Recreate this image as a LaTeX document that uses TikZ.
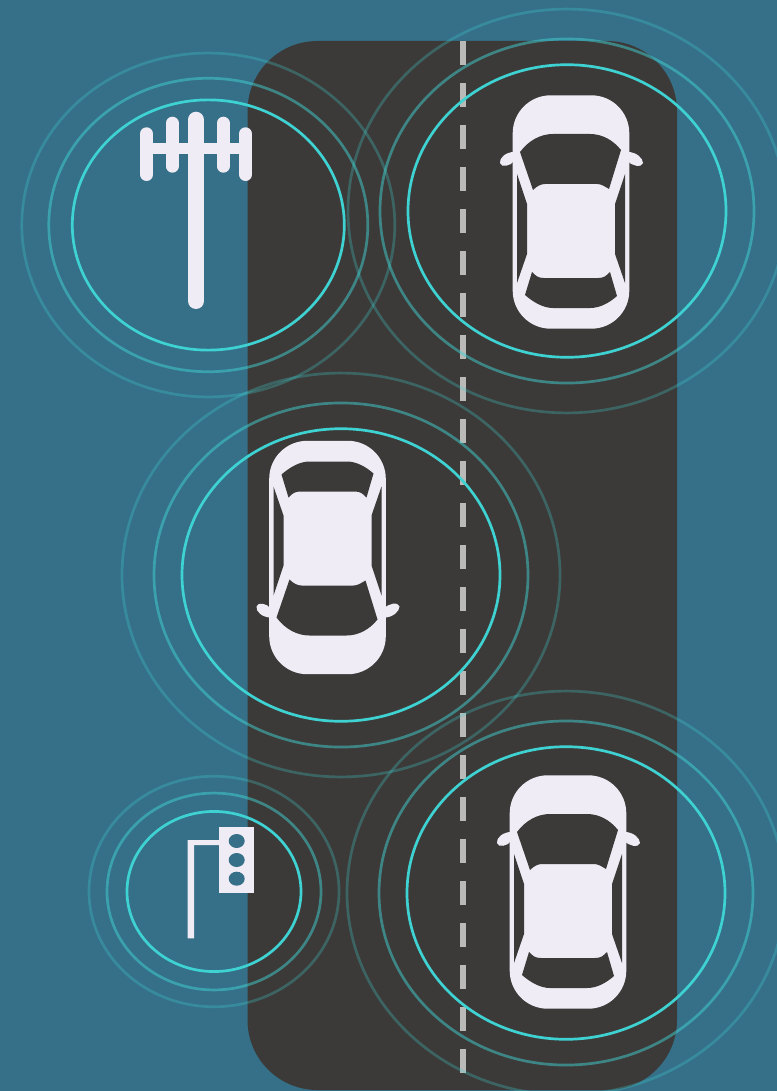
\documentclass[tikz,border=0pt]{standalone}
\usepackage{tikz}
\definecolor{bgblue}{HTML}{357088}
\definecolor{roadgray}{HTML}{3C3A38}
\definecolor{ringcyan}{HTML}{3FD2D2}
\definecolor{carwhite}{HTML}{F0ECF5}
\tikzset{
    ringa/.style={draw=ringcyan,line width=2.7pt},
    ringb/.style={draw=ringcyan,line width=2.7pt,opacity=0.5},
    ringc/.style={draw=ringcyan,line width=2.7pt,opacity=0.28},
    antenna/.style={draw=carwhite,line width=13pt,line cap=round},
    car/.pic={
        % carrozzeria
        \fill[carwhite,rounded corners=38pt] (-58.3,-116.7) rectangle (58.3,116.7);
        % specchietti
        \fill[carwhite] (-57,-60) .. controls (-65,-60) and (-72,-54) .. (-71,-49) .. controls (-70,-44) and (-60,-46) .. (-57,-51) -- cycle;
        \fill[carwhite] (57,-60) .. controls (65,-60) and (72,-54) .. (72,-49) .. controls (71,-44) and (60,-46) .. (57,-51) -- cycle;
        % parabrezza e lunotto
        \fill[roadgray] (-51,-60) .. controls (-42,-72) and (-30,-78) .. (-18,-78) -- (19,-78) .. controls (31,-78) and (42,-72) .. (50,-62) -- (38,-23) .. controls (33,-26) and (30,-28) .. (26,-28) -- (-26,-28) .. controls (-30,-28) and (-34,-26) .. (-38,-22) -- cycle;
        \fill[roadgray] (-46,83) .. controls (-38,90) and (-28,96) .. (-18,96) -- (19,96) .. controls (29,96) and (38,91) .. (46,84) -- (39,60) .. controls (35,64) and (33,66) .. (27,66) -- (-27,66) .. controls (-33,66) and (-35,64) .. (-39,60) -- cycle;
        % finestrini
        \fill[roadgray] (-54,-38) -- (-44,-8) -- (-44,42) -- (-54,71) -- cycle;
        \fill[roadgray] (54,-38) -- (44,-8) -- (44,42) -- (54,71) -- cycle;
    }
}
\newcommand{\ringset}[5]{%
    \draw[ringc] (#1,#2) ellipse[x radius=#5,y radius=#5*0.922];
    \draw[ringb] (#1,#2) ellipse[x radius=#4,y radius=#4*0.92];
    \draw[ringa] (#1,#2) ellipse[x radius=#3,y radius=#3*0.92];
}
\begin{document}
\begin{tikzpicture}[x=1pt,y=-1pt]
    \useasboundingbox (0,0) rectangle (777,1091);
    \clip (0,0) rectangle (777,1091);

    % sfondo e strada
    \fill[bgblue] (0,0) rectangle (777,1091);
    \fill[roadgray,rounded corners=70pt] (247.5,41) rectangle (677,1090);

    % mezzeria
    \foreach \i in {0,...,24}
        \fill[white,opacity=0.65] (459.5,41+42*\i) rectangle (466,65+42*\i);

    % onde
    \ringset{208.3}{225}{136}{159.5}{186.5}
    \ringset{567}{211}{159}{187}{219}
    \ringset{341}{575}{159}{187}{219}
    \ringset{566}{893}{159}{187}{219}
    \ringset{214}{891.5}{87}{107}{125}

    % auto
    \pic at (571,212) {car};
    \pic[yscale=-1] at (327.5,557.5) {car};
    \pic at (568,892) {car};

    % antenna
    \draw[carwhite,line width=11pt] (146.6,148.7) -- (245.6,148.7);
    \draw[antenna] (146.6,133.8) -- (146.6,174.5);
    \draw[antenna] (172.2,123.2) -- (172.2,166.2);
    \draw[antenna] (223.2,123.2) -- (223.2,166.2);
    \draw[antenna] (245.6,133.8) -- (245.6,174.5);
    \draw[carwhite,line width=16pt,line cap=round] (196,119.7) -- (196,301);

    % semaforo
    \fill[carwhite] (187.7,938.3) -- (187.7,840) -- (225,840) -- (225,845) -- (194,845) -- (194,938.3) -- cycle;
    \fill[carwhite] (219.3,826.7) rectangle (254.3,893.3);
    \foreach \yy in {841,860,878.7}
        \fill[bgblue] (236.7,\yy) ellipse[x radius=8,y radius=7];
\end{tikzpicture}
\end{document}
